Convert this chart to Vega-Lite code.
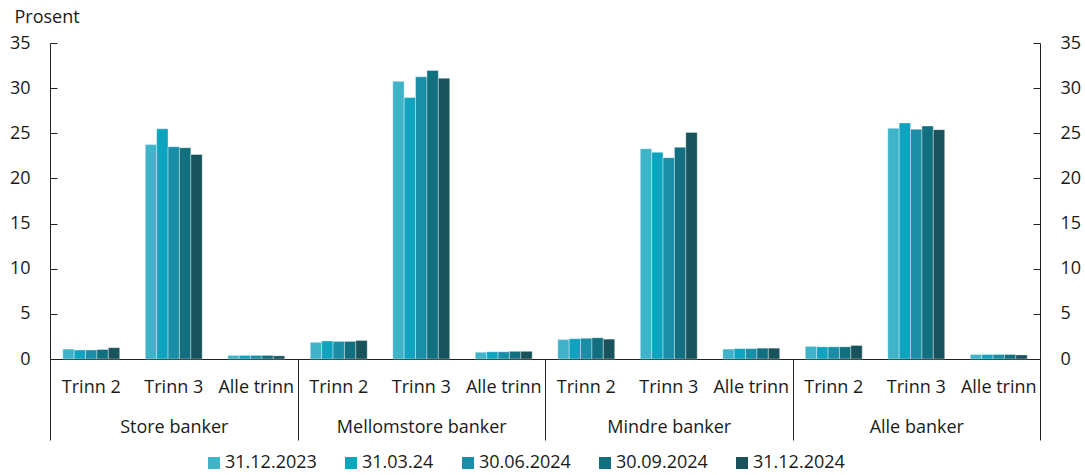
{
  "$schema": "https://vega.github.io/schema/vega-lite/v6.json",
  "width": 990,
  "height": 316,
  "autosize": {"type": "none"},
  "padding": {"left": 50, "top": 43, "right": 45, "bottom": 116},
  "config": {
    "font": "Open Sans",
    "view": {"stroke": null},
    "axis": {
      "grid": false,
      "labelFont": "Open Sans",
      "labelFontSize": 18,
      "labelColor": "#1a1a1a",
      "titleFont": "Open Sans",
      "titleColor": "#1a1a1a",
      "domainColor": "#222222",
      "tickColor": "#222222"
    },
    "legend": {
      "labelFont": "Open Sans",
      "labelFontSize": 18,
      "labelColor": "#1a1a1a"
    }
  },
  "data": {
    "values": [
      {"kat": "Store banker|Trinn 2", "dato": "31.12.2023", "verdi": 1.1},
      {"kat": "Store banker|Trinn 2", "dato": "31.03.24", "verdi": 1.0},
      {"kat": "Store banker|Trinn 2", "dato": "30.06.2024", "verdi": 1.0},
      {"kat": "Store banker|Trinn 2", "dato": "30.09.2024", "verdi": 1.05},
      {"kat": "Store banker|Trinn 2", "dato": "31.12.2024", "verdi": 1.25},
      {"kat": "Store banker|Trinn 3", "dato": "31.12.2023", "verdi": 23.75},
      {"kat": "Store banker|Trinn 3", "dato": "31.03.24", "verdi": 25.5},
      {"kat": "Store banker|Trinn 3", "dato": "30.06.2024", "verdi": 23.5},
      {"kat": "Store banker|Trinn 3", "dato": "30.09.2024", "verdi": 23.4},
      {"kat": "Store banker|Trinn 3", "dato": "31.12.2024", "verdi": 22.65},
      {"kat": "Store banker|Alle trinn", "dato": "31.12.2023", "verdi": 0.4},
      {"kat": "Store banker|Alle trinn", "dato": "31.03.24", "verdi": 0.4},
      {"kat": "Store banker|Alle trinn", "dato": "30.06.2024", "verdi": 0.4},
      {"kat": "Store banker|Alle trinn", "dato": "30.09.2024", "verdi": 0.4},
      {"kat": "Store banker|Alle trinn", "dato": "31.12.2024", "verdi": 0.35},
      {"kat": "Mellomstore banker|Trinn 2", "dato": "31.12.2023", "verdi": 1.85},
      {"kat": "Mellomstore banker|Trinn 2", "dato": "31.03.24", "verdi": 2.0},
      {"kat": "Mellomstore banker|Trinn 2", "dato": "30.06.2024", "verdi": 1.95},
      {"kat": "Mellomstore banker|Trinn 2", "dato": "30.09.2024", "verdi": 1.95},
      {"kat": "Mellomstore banker|Trinn 2", "dato": "31.12.2024", "verdi": 2.05},
      {"kat": "Mellomstore banker|Trinn 3", "dato": "31.12.2023", "verdi": 30.75},
      {"kat": "Mellomstore banker|Trinn 3", "dato": "31.03.24", "verdi": 28.95},
      {"kat": "Mellomstore banker|Trinn 3", "dato": "30.06.2024", "verdi": 31.25},
      {"kat": "Mellomstore banker|Trinn 3", "dato": "30.09.2024", "verdi": 31.95},
      {"kat": "Mellomstore banker|Trinn 3", "dato": "31.12.2024", "verdi": 31.1},
      {"kat": "Mellomstore banker|Alle trinn", "dato": "31.12.2023", "verdi": 0.75},
      {"kat": "Mellomstore banker|Alle trinn", "dato": "31.03.24", "verdi": 0.8},
      {"kat": "Mellomstore banker|Alle trinn", "dato": "30.06.2024", "verdi": 0.8},
      {"kat": "Mellomstore banker|Alle trinn", "dato": "30.09.2024", "verdi": 0.85},
      {"kat": "Mellomstore banker|Alle trinn", "dato": "31.12.2024", "verdi": 0.85},
      {"kat": "Mindre banker|Trinn 2", "dato": "31.12.2023", "verdi": 2.15},
      {"kat": "Mindre banker|Trinn 2", "dato": "31.03.24", "verdi": 2.25},
      {"kat": "Mindre banker|Trinn 2", "dato": "30.06.2024", "verdi": 2.3},
      {"kat": "Mindre banker|Trinn 2", "dato": "30.09.2024", "verdi": 2.35},
      {"kat": "Mindre banker|Trinn 2", "dato": "31.12.2024", "verdi": 2.2},
      {"kat": "Mindre banker|Trinn 3", "dato": "31.12.2023", "verdi": 23.3},
      {"kat": "Mindre banker|Trinn 3", "dato": "31.03.24", "verdi": 22.9},
      {"kat": "Mindre banker|Trinn 3", "dato": "30.06.2024", "verdi": 22.3},
      {"kat": "Mindre banker|Trinn 3", "dato": "30.09.2024", "verdi": 23.45},
      {"kat": "Mindre banker|Trinn 3", "dato": "31.12.2024", "verdi": 25.1},
      {"kat": "Mindre banker|Alle trinn", "dato": "31.12.2023", "verdi": 1.1},
      {"kat": "Mindre banker|Alle trinn", "dato": "31.03.24", "verdi": 1.15},
      {"kat": "Mindre banker|Alle trinn", "dato": "30.06.2024", "verdi": 1.15},
      {"kat": "Mindre banker|Alle trinn", "dato": "30.09.2024", "verdi": 1.2},
      {"kat": "Mindre banker|Alle trinn", "dato": "31.12.2024", "verdi": 1.2},
      {"kat": "Alle banker|Trinn 2", "dato": "31.12.2023", "verdi": 1.4},
      {"kat": "Alle banker|Trinn 2", "dato": "31.03.24", "verdi": 1.35},
      {"kat": "Alle banker|Trinn 2", "dato": "30.06.2024", "verdi": 1.35},
      {"kat": "Alle banker|Trinn 2", "dato": "30.09.2024", "verdi": 1.35},
      {"kat": "Alle banker|Trinn 2", "dato": "31.12.2024", "verdi": 1.5},
      {"kat": "Alle banker|Trinn 3", "dato": "31.12.2023", "verdi": 25.55},
      {"kat": "Alle banker|Trinn 3", "dato": "31.03.24", "verdi": 26.15},
      {"kat": "Alle banker|Trinn 3", "dato": "30.06.2024", "verdi": 25.45},
      {"kat": "Alle banker|Trinn 3", "dato": "30.09.2024", "verdi": 25.8},
      {"kat": "Alle banker|Trinn 3", "dato": "31.12.2024", "verdi": 25.4},
      {"kat": "Alle banker|Alle trinn", "dato": "31.12.2023", "verdi": 0.5},
      {"kat": "Alle banker|Alle trinn", "dato": "31.03.24", "verdi": 0.5},
      {"kat": "Alle banker|Alle trinn", "dato": "30.06.2024", "verdi": 0.5},
      {"kat": "Alle banker|Alle trinn", "dato": "30.09.2024", "verdi": 0.5},
      {"kat": "Alle banker|Alle trinn", "dato": "31.12.2024", "verdi": 0.45}
    ]
  },
  "layer": [
    {
      "mark": {"type": "bar", "stroke": "#ffffff", "strokeWidth": 0.6, "strokeOpacity": 0.6},
      "encoding": {
        "x": {
          "field": "kat",
          "type": "nominal",
          "sort": null,
          "scale": {"paddingInner": 0.31, "paddingOuter": 0.155},
          "axis": {
            "title": null,
            "ticks": false,
            "labelAngle": 0,
            "labelPadding": 19,
            "labelExpr": "split(datum.label, '|')[1]",
            "domainColor": "#222222",
            "domainWidth": 1.2
          }
        },
        "xOffset": {
          "field": "dato",
          "type": "nominal",
          "sort": ["31.12.2023", "31.03.24", "30.06.2024", "30.09.2024", "31.12.2024"],
          "scale": {"paddingInner": 0, "paddingOuter": 0}
        },
        "y": {
          "field": "verdi",
          "type": "quantitative",
          "scale": {"domain": [0, 35], "nice": false},
          "axis": {
            "title": "Prosent",
            "titleAngle": 0,
            "titleAlign": "left",
            "titleBaseline": "middle",
            "titleX": -36,
            "titleY": -26,
            "titleFontSize": 18,
            "titleFontWeight": "normal",
            "values": [0, 5, 10, 15, 20, 25, 30, 35],
            "tickSize": -7,
            "labelPadding": 27
          }
        },
        "color": {
          "field": "dato",
          "type": "nominal",
          "scale": {
            "domain": ["31.12.2023", "31.03.24", "30.06.2024", "30.09.2024", "31.12.2024"],
            "range": ["#3fb4c9", "#0ea4bf", "#1a8ea6", "#126f7f", "#18525c"]
          },
          "legend": {
            "title": null,
            "orient": "none",
            "legendX": 155,
            "legendY": 411,
            "direction": "horizontal",
            "symbolType": "square",
            "symbolSize": 144,
            "symbolStrokeWidth": 0,
            "columnPadding": 25,
            "labelOffset": 2
          }
        }
      }
    },
    {
      "mark": {"type": "bar", "opacity": 0},
      "encoding": {
        "y": {
          "field": "verdi",
          "type": "quantitative",
          "scale": {"domain": [0, 35], "nice": false},
          "axis": {
            "orient": "right",
            "title": null,
            "values": [0, 5, 10, 15, 20, 25, 30, 35],
            "tickSize": -7,
            "labelPadding": 27
          }
        }
      }
    },
    {
      "data": {
        "values": [
          {"bank": "Store banker"},
          {"bank": "Mellomstore banker"},
          {"bank": "Mindre banker"},
          {"bank": "Alle banker"}
        ]
      },
      "mark": {"type": "rule", "opacity": 0},
      "encoding": {
        "x": {
          "field": "bank",
          "type": "nominal",
          "sort": null,
          "scale": {"paddingInner": 0, "paddingOuter": 0},
          "axis": {
            "orient": "bottom",
            "title": null,
            "domain": false,
            "tickBand": "extent",
            "tickSize": 81,
            "labelAngle": 0,
            "labelPadding": -22
          }
        }
      }
    }
  ],
  "resolve": {
    "scale": {"x": "independent", "y": "independent"}
  }
}
